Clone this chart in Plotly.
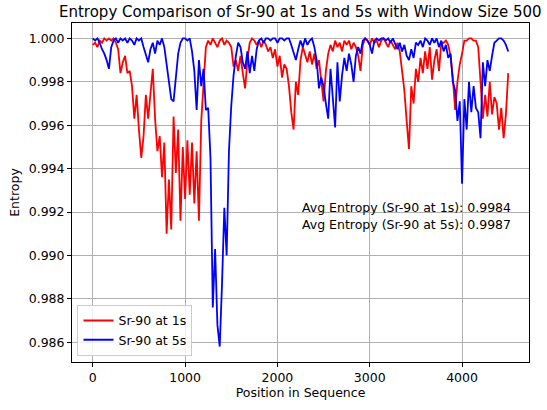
import plotly.graph_objects as go

step = 25
positions = list(range(0, 4501, step))

entropy_1s = [
    0.9997, 0.9998, 0.9996, 0.9999, 0.9998, 1.0000, 0.9999, 1.0000, 0.9999, 1.0000,
    0.9998, 0.9995, 0.9984, 0.9989, 0.9992, 0.9984, 0.9985, 0.9978, 0.9963, 0.9974,
    0.9958, 0.9945, 0.9955, 0.9974, 0.9963, 0.9975, 0.9986, 0.9963, 0.9948, 0.9955,
    0.9936, 0.9952, 0.9910, 0.9935, 0.9912, 0.9964, 0.9938, 0.9958, 0.9916, 0.9950,
    0.9926, 0.9953, 0.9928, 0.9952, 0.9924, 0.9948, 0.9916, 0.9962, 0.9978, 0.9996,
    0.9999, 0.9997, 1.0000, 0.9998, 0.9996, 0.9999, 1.0000, 0.9997, 0.9999, 0.9998,
    0.9996, 0.9987, 0.9990, 0.9985, 0.9992, 0.9984, 0.9977, 0.9990, 0.9998, 1.0000,
    0.9999, 0.9997, 0.9999, 0.9996, 0.9999, 0.9997, 0.9994, 0.9996, 0.9991, 0.9995,
    0.9987, 0.9992, 0.9982, 0.9988, 0.9986, 0.9978, 0.9966, 0.9958, 0.9980, 0.9974,
    0.9990, 0.9996, 0.9993, 0.9989, 0.9994, 0.9988, 0.9993, 0.9986, 0.9990, 0.9980,
    0.9971, 0.9985, 0.9993, 0.9997, 0.9994, 0.9999, 0.9996, 0.9998, 0.9994, 0.9999,
    0.9997, 0.9999, 0.9995, 0.9998, 0.9996, 0.9992, 0.9985, 0.9997, 1.0000, 0.9999,
    0.9997, 1.0000, 0.9998, 0.9999, 0.9996, 0.9999, 1.0000, 0.9998, 0.9996, 0.9999,
    0.9997, 0.9995, 0.9998, 0.9994, 0.9985, 0.9976, 0.9962, 0.9949, 0.9978, 0.9970,
    0.9986, 0.9980, 0.9991, 0.9984, 0.9994, 0.9986, 0.9996, 0.9981, 0.9990, 0.9995,
    0.9985, 0.9998, 0.9998, 0.9999, 0.9997, 0.9992, 0.9982, 0.9967, 0.9980, 0.9988,
    0.9993, 0.9999, 0.9999, 1.0000, 1.0000, 0.9999, 0.9999, 0.9996, 0.9980, 0.9963,
    0.9974, 0.9964, 0.9980, 0.9965, 0.9973, 0.9970, 0.9958, 0.9968, 0.9954, 0.9965,
    0.9984,
]

entropy_5s = [
    1.0000, 0.9999, 1.0000, 0.9998, 0.9995, 0.9993, 0.9990, 0.9986, 0.9996, 0.9999,
    1.0000, 0.9998, 1.0000, 0.9999, 1.0000, 0.9998, 1.0000, 0.9999, 0.9997, 1.0000,
    0.9999, 1.0000, 0.9996, 0.9992, 0.9989, 0.9995, 0.9998, 0.9993, 0.9999, 0.9997,
    1.0000, 0.9996, 0.9988, 0.9982, 0.9972, 0.9971, 0.9982, 0.9993, 0.9998, 1.0000,
    1.0000, 0.9999, 1.0000, 0.9994, 0.9985, 0.9967, 0.9990, 0.9978, 0.9986, 0.9967,
    0.9968, 0.9945, 0.9876, 0.9903, 0.9868, 0.9858, 0.9887, 0.9922, 0.9900, 0.9948,
    0.9969, 0.9983, 0.9992, 0.9998, 0.9996, 0.9989, 0.9986, 0.9994, 0.9984, 0.9992,
    0.9985, 0.9995, 0.9999, 1.0000, 0.9998, 1.0000, 1.0000, 0.9999, 1.0000, 1.0000,
    0.9998, 1.0000, 1.0000, 0.9999, 1.0000, 1.0000, 0.9997, 0.9993, 0.9990, 0.9995,
    0.9999, 0.9996, 1.0000, 0.9997, 0.9999, 1.0000, 0.9996, 0.9990, 0.9977, 0.9982,
    0.9978, 0.9970, 0.9963, 0.9986, 0.9970, 0.9959, 0.9989, 0.9971, 0.9983, 0.9991,
    0.9985, 0.9993, 0.9988, 0.9980, 0.9992, 0.9996, 0.9993, 0.9999, 1.0000, 0.9999,
    0.9997, 0.9993, 0.9999, 1.0000, 0.9999, 1.0000, 1.0000, 0.9999, 1.0000, 0.9998,
    1.0000, 0.9997, 0.9995, 0.9998, 0.9994, 0.9997, 0.9992, 0.9990, 0.9995, 0.9991,
    0.9998, 0.9997, 0.9999, 0.9996, 1.0000, 0.9999, 0.9997, 1.0000, 0.9998, 1.0000,
    0.9996, 0.9999, 0.9994, 0.9997, 0.9991, 0.9993, 0.9980, 0.9976, 0.9962, 0.9971,
    0.9933, 0.9972, 0.9958, 0.9980, 0.9966, 0.9978, 0.9968, 0.9966, 0.9954, 0.9989,
    0.9978, 0.9990, 0.9985, 0.9992, 0.9998, 0.9999, 1.0000, 1.0000, 0.9999, 0.9997,
    0.9994,
]

avg_1s = 0.9984
avg_5s = 0.9987

FONT = "DejaVu Sans"

fig = go.Figure()
fig.add_trace(go.Scatter(x=positions, y=entropy_1s, mode="lines", name="Sr-90 at 1s",
                         line=dict(color="#ff0000", width=1.8)))
fig.add_trace(go.Scatter(x=positions, y=entropy_5s, mode="lines", name="Sr-90 at 5s",
                         line=dict(color="#0000ff", width=1.8)))

axis_common = dict(
    showgrid=True, gridcolor="#b0b0b0", gridwidth=0.8,
    showline=True, linecolor="black", linewidth=1, mirror=True,
    ticks="outside", ticklen=4, tickcolor="black", zeroline=False,
    tickfont=dict(family=FONT, size=12.5, color="black"),
)

fig.update_layout(
    width=547, height=410,
    margin=dict(l=72, r=18, t=23, b=46),
    paper_bgcolor="white", plot_bgcolor="white",
    font=dict(family=FONT, size=12.5, color="black"),
    title=dict(text="Entropy Comparison of Sr-90 at 1s and 5s with Window Size 500",
               x=0.549, xanchor="center", y=0.972, yanchor="middle",
               font=dict(family=FONT, size=15, color="black")),
    xaxis=dict(range=[-225, 4725], tickvals=[0, 1000, 2000, 3000, 4000],
               ticktext=["0", "1000", "2000", "3000", "4000"],
               title=dict(text="Position in Sequence", standoff=4,
                          font=dict(family=FONT, size=12.5)),
               **axis_common),
    yaxis=dict(range=[0.98509, 1.00071], tick0=0.986, dtick=0.002, tickformat=".3f",
               title=dict(text="Entropy", standoff=6, font=dict(family=FONT, size=12.5)),
               **axis_common),
    legend=dict(x=0.012, y=0.018, xanchor="left", yanchor="bottom",
                bgcolor="rgba(255,255,255,0.8)", bordercolor="#cccccc", borderwidth=1,
                font=dict(family=FONT, size=12.5), tracegroupgap=0,
                itemwidth=30),
    showlegend=True,
    annotations=[
        dict(text=f"Avg Entropy (Sr-90 at 1s): {avg_1s:.4f}", xref="paper", yref="paper",
             x=0.965, y=0.456, xanchor="right", yanchor="middle", showarrow=False,
             font=dict(family=FONT, size=12.5, color="black")),
        dict(text=f"Avg Entropy (Sr-90 at 5s): {avg_5s:.4f}", xref="paper", yref="paper",
             x=0.965, y=0.406, xanchor="right", yanchor="middle", showarrow=False,
             font=dict(family=FONT, size=12.5, color="black")),
    ],
)

fig.write_html("out.html")
